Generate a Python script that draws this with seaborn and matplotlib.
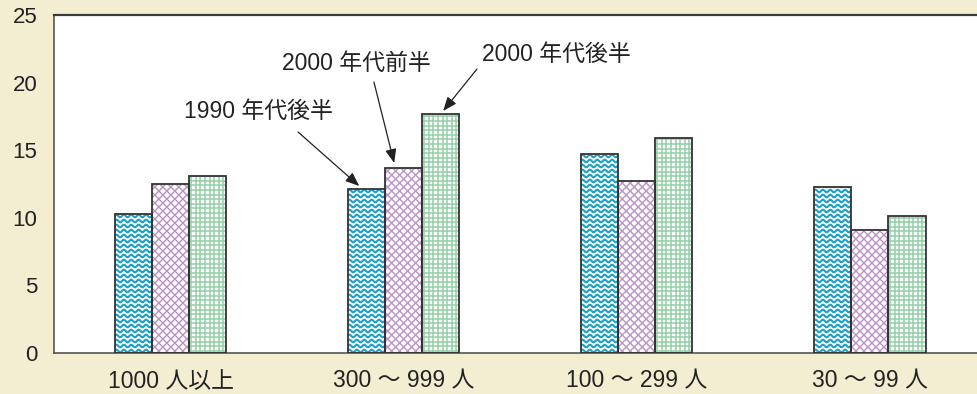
import numpy as np
import pandas as pd
import matplotlib
matplotlib.use("Agg")
import matplotlib.pyplot as plt
from matplotlib.patches import Rectangle
import seaborn as sns

# ---- data -------------------------------------------------------------
sizes = ["1000 人以上", "300 〜 999 人", "100 〜 299 人", "30 〜 99 人"]
periods = ["1990 年代後半", "2000 年代前半", "2000 年代後半"]
v_1990s_late = [10.3, 12.1, 14.7, 12.3]
v_2000s_early = [12.5, 13.7, 12.7, 9.1]
v_2000s_late = [13.1, 17.7, 15.9, 10.1]
y_ticks = [0, 5, 10, 15, 20, 25]

series = [v_1990s_late, v_2000s_early, v_2000s_late]
df = pd.DataFrame({
    "size": np.repeat([sizes], len(periods), axis=0).ravel(),
    "period": np.repeat(periods, len(sizes)),
    "value": np.concatenate(series),
})

# ---- style ------------------------------------------------------------
BG = "#F3EDD2"
C_CYAN = "#1BA0C9"
C_PURPLE = "#BC90C6"
C_GREEN = "#92CFA5"
EDGE = "#333333"

sns.set_theme(style="white")
plt.rcParams["font.family"] = ["Liberation Sans", "Noto Sans CJK JP"]
plt.rcParams["axes.unicode_minus"] = False

fig = plt.figure(figsize=(9.77, 3.94), dpi=100, facecolor=BG)
ax = fig.add_axes([54 / 977, 41 / 394, 1 - 54 / 977, 338 / 394])
ax.set_facecolor("white")

sns.barplot(data=df, x="size", y="value", hue="period", hue_order=periods,
            palette=["white"] * 3, width=0.48, saturation=1, legend=False,
            edgecolor="none", linewidth=0, ax=ax)

ax.set_xlim(-0.5, 3.461)
ax.set_ylim(0, 25)
ax.set_yticks(y_ticks)
ax.set_xlabel("")
ax.set_ylabel("")

for side in ["left", "top", "bottom"]:
    ax.spines[side].set_visible(True)
ax.spines["right"].set_visible(False)
ax.spines["left"].set_color("#555555")
ax.spines["left"].set_linewidth(1.2)
ax.spines["top"].set_color("#3a3a3a")
ax.spines["top"].set_linewidth(1.6)
ax.spines["bottom"].set_color("#555555")
ax.spines["bottom"].set_linewidth(1.2)

ax.tick_params(axis="y", direction="in", length=7, width=1.2, color="#888888",
               pad=12, labelsize=16, labelcolor="#222222")
ax.tick_params(axis="x", length=0, pad=12, labelsize=16.5, labelcolor="#222222")

fig.canvas.draw()
to_data = ax.transData.inverted()


def px_lines(patch, make_segments, color, lw):
    """Draw pixel-space line segments clipped to a bar."""
    bx0, by0 = ax.transData.transform((patch.get_x(), patch.get_y()))
    bx1, by1 = ax.transData.transform((patch.get_x() + patch.get_width(),
                                       patch.get_y() + patch.get_height()))
    for seg in make_segments(bx0, by0, bx1, by1):
        pts = to_data.transform(np.column_stack(seg))
        ln, = ax.plot(pts[:, 0], pts[:, 1], color=color, lw=lw,
                      solid_capstyle="butt", zorder=2.5)
        ln.set_clip_path(patch)


def waves(x0, y0, x1, y1, period=7.4, step=5.0, amp=1.3):
    xs = np.linspace(x0 - 2, x1 + 2, 200)
    yy = y0 + 2.0
    while yy < y1 + step:
        yield xs, yy + amp * np.sin(2 * np.pi * (xs - x0) / period)
        yy += step


def grid(x0, y0, x1, y1, step=4.6):
    xx = x0 + 2.0
    while xx < x1:
        yield np.array([xx, xx]), np.array([y0, y1])
        xx += step
    yy = y0 + 2.0
    while yy < y1:
        yield np.array([x0, x1]), np.array([yy, yy])
        yy += step


def diag(x0, y0, x1, y1, step=8.0):
    h = y1 - y0 + 4
    c = x0 - h
    while c < x1 + h:
        yield np.array([c, c + h]), np.array([y0 - 2, y1 + 2])
        yield np.array([c, c - h]), np.array([y0 - 2, y1 + 2])
        c += step


styles = [(waves, C_CYAN, 1.5), (diag, C_PURPLE, 1.0), (grid, C_GREEN, 1.1)]
for container, (maker, color, lw) in zip(ax.containers, styles):
    for patch in container:
        px_lines(patch, maker, color, lw)
        ax.add_patch(Rectangle((patch.get_x(), patch.get_y()),
                               patch.get_width(), patch.get_height(),
                               fill=False, edgecolor=EDGE, lw=1.3, zorder=3))

# ---- callouts on the second group --------------------------------------
bars = [c[1] for c in ax.containers]
cx = [b.get_x() + b.get_width() / 2 for b in bars]
vals = [s[1] for s in series]

arrow_kw = dict(arrowstyle="-|>,head_length=0.7,head_width=0.28",
                color="#222222", lw=0.9, mutation_scale=12,
                shrinkA=0, shrinkB=0)
label_pos = [(0.376, 17.9), (0.796, 21.4), (1.655, 22.1)]
tails = [(0.547, 16.35), (0.873, 20.04), (1.315, 21.0)]
tips = [(cx[0] - 0.03, vals[0] + 0.25),
        (cx[1] - 0.04, vals[1] + 0.35),
        (cx[2] + 0.01, vals[2] + 0.2)]
for name, lp, tail, tip in zip(periods, label_pos, tails, tips):
    ax.annotate("", xy=tip, xytext=tail, arrowprops=arrow_kw, zorder=4)
    ax.text(lp[0], lp[1], name, ha="center", va="center", fontsize=16.5,
            color="#222222", zorder=4)

fig.savefig("out.png", dpi=100, facecolor=BG)
